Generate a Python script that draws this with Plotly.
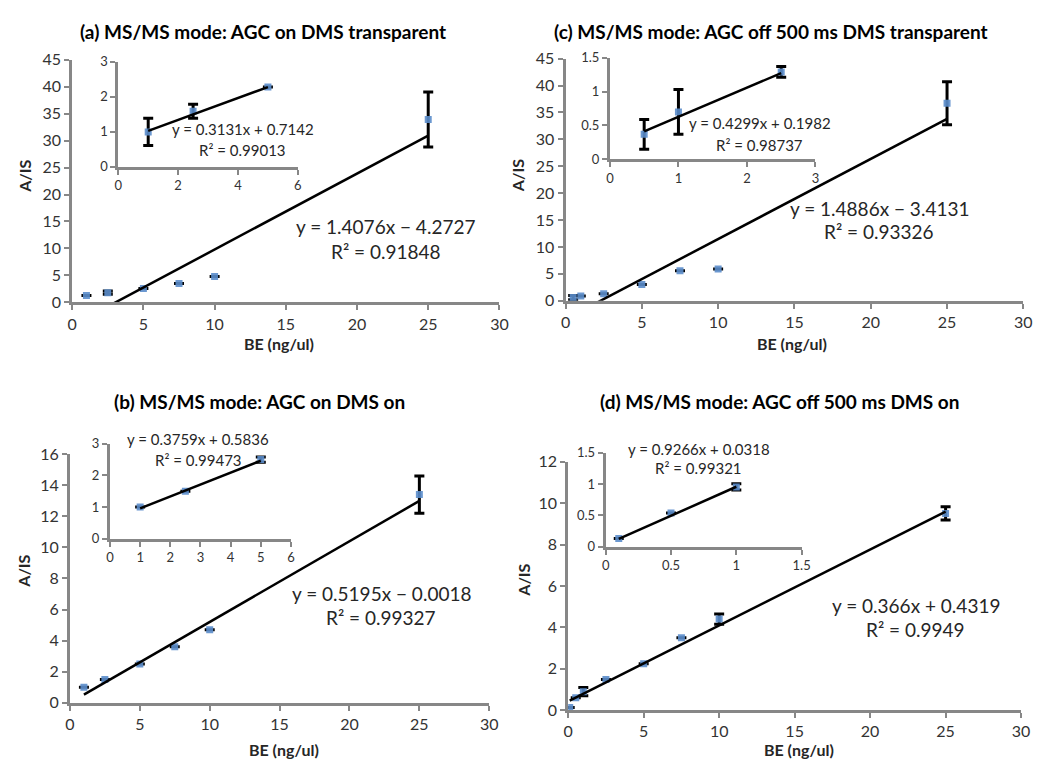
import plotly.graph_objects as go

W, H = 1050, 761

# ---------------- data ----------------
# (a) AGC on, DMS transparent
a_x = [1, 2.5, 5, 7.5, 10, 25]
a_y = [1.3, 1.8, 2.6, 3.5, 4.8, 33.9]
a_err = [0, 0.3, 0, 0, 0, 5.1]
a_ins_x = [1, 2.5, 5]
a_ins_y = [1.0, 1.59, 2.28]
a_ins_err = [0.39, 0.2, 0]
a_fit = (1.4076, -4.2727)
a_ins_fit = (0.3131, 0.7142)

# (c) AGC off 500 ms, DMS transparent
c_x = [0.5, 1, 2.5, 5, 7.5, 10, 25]
c_y = [0.6, 0.9, 1.3, 3.0, 5.6, 5.9, 36.7]
c_err = [0.4, 0, 0, 0, 0, 0, 4.0]
c_ins_x = [0.5, 1, 2.5]
c_ins_y = [0.37, 0.70, 1.29]
c_ins_err = [0.22, 0.33, 0.08]
c_fit = (1.4886, -3.4131)
c_ins_fit = (0.4299, 0.1982)

# (b) AGC on, DMS on
b_x = [1, 2.5, 5, 7.5, 10, 25]
b_y = [1.0, 1.5, 2.5, 3.6, 4.7, 13.4]
b_err = [0, 0, 0, 0, 0, 1.2]
b_ins_x = [1, 2.5, 5]
b_ins_y = [1.0, 1.5, 2.5]
b_ins_err = [0, 0, 0.08]
b_fit = (0.5195, 0.0018)
b_ins_fit = (0.3759, 0.5836)

# (d) AGC off 500 ms, DMS on
d_x = [0.1, 0.5, 1, 2.5, 5, 7.5, 10, 25]
d_y = [0.13, 0.6, 0.9, 1.49, 2.24, 3.5, 4.4, 9.5]
d_err = [0, 0, 0.2, 0, 0, 0, 0.25, 0.32]
d_ins_x = [0.1, 0.5, 1]
d_ins_y = [0.13, 0.54, 0.955]
d_ins_err = [0, 0, 0.05]
d_fit = (0.366, 0.4319)
d_ins_fit = (0.9266, 0.0318)

titles = [
    "(a) MS/MS mode: AGC on DMS transparent",
    "(c) MS/MS mode: AGC off 500 ms DMS transparent",
    "(b) MS/MS mode: AGC on DMS on",
    "(d) MS/MS mode: AGC off 500 ms DMS on",
]
main_eqs = [
    ("y = 1.4076x − 4.2727", "R² = 0.91848"),
    ("y = 1.4886x − 3.4131", "R² = 0.93326"),
    ("y = 0.5195x − 0.0018", "R² = 0.99327"),
    ("y = 0.366x + 0.4319", "R² = 0.9949"),
]
ins_eqs = [
    ("y = 0.3131x + 0.7142", "R² = 0.99013"),
    ("y = 0.4299x + 0.1982", "R² = 0.98737"),
    ("y = 0.3759x + 0.5836", "R² = 0.99473"),
    ("y = 0.9266x + 0.0318", "R² = 0.99321"),
]
x_label = "BE (ng/ul)"
y_label = "A/IS"

# ---------------- helpers ----------------
FONT = "Lato, 'Open Sans', sans-serif"
AXC = "#878787"
MARK = "#5B8DCB"


def fx(px):
    return px / W


def fy(py):
    return 1 - py / H


fig = go.Figure()


def add_panel(xs, ys, errs, fit, xname, yname):
    fig.add_trace(go.Scatter(
        x=xs, y=ys, mode="markers", xaxis=xname, yaxis=yname,
        marker=dict(symbol="square", size=7, color=MARK, opacity=0.9),
        error_y=dict(type="data", array=[e if e > 0 else None for e in errs],
                     visible=True, color="black", thickness=3, width=5),
        showlegend=False, hoverinfo="skip"))
    x0, x1 = min(xs), max(xs)
    fig.add_trace(go.Scatter(
        x=[x0, x1], y=[fit[0] * x0 + fit[1], fit[0] * x1 + fit[1]],
        mode="lines", xaxis=xname, yaxis=yname,
        line=dict(color="black", width=2.5), showlegend=False, hoverinfo="skip"))


def axis(px0, px1, rng, dtick, anchor, size):
    return dict(domain=[fx(px0), fx(px1)], range=rng, dtick=dtick, anchor=anchor,
                showline=True, linecolor=AXC, linewidth=3, ticks="outside",
                ticklen=5, tickwidth=2, tickcolor=AXC, showgrid=False,
                zeroline=False, tickfont=dict(family=FONT, size=size, color="#333333"))


def yaxis(py_top, py_bot, rng, dtick, anchor, size):
    return dict(domain=[fy(py_bot), fy(py_top)], range=rng, dtick=dtick, anchor=anchor,
                showline=True, linecolor=AXC, linewidth=3, ticks="outside",
                ticklen=5, tickwidth=2, tickcolor=AXC, showgrid=False,
                zeroline=False, tickfont=dict(family=FONT, size=size, color="#333333"))


panels = [
    dict(main=(a_x, a_y, a_err, a_fit), ins=(a_ins_x, a_ins_y, a_ins_err, a_ins_fit),
         mx=(60, 493), my=(42.7, 291.7), mr=([0, 30], 5, [0, 45], 5),
         ix=(106.7, 288.7), iy=(45, 152.7), ir=([0, 6], 2, [0, 3], 1)),
    dict(main=(c_x, c_y, c_err, c_fit), ins=(c_ins_x, c_ins_y, c_ins_err, c_ins_fit),
         mx=(560, 1024), my=(41.7, 290), mr=([0, 30], 5, [0, 45], 5),
         ix=(605, 813.3), iy=(40.7, 145), ir=([0, 3], 1, [0, 1.5], 0.5)),
    dict(main=(b_x, b_y, b_err, b_fit), ins=(b_ins_x, b_ins_y, b_ins_err, b_ins_fit),
         mx=(57.7, 482.7), my=(447.3, 702.3), mr=([0, 30], 5, [0, 16], 2),
         ix=(98.3, 281.7), iy=(436.7, 534), ir=([0, 6], 1, [0, 3], 1)),
    dict(main=(d_x, d_y, d_err, d_fit), ins=(d_ins_x, d_ins_y, d_ins_err, d_ins_fit),
         mx=(562.7, 1021.7), my=(455, 710), mr=([0, 30], 5, [0, 12], 2),
         ix=(600.7, 799.3), iy=(446, 542.3), ir=([0, 1.5], 0.5, [0, 1.5], 0.5)),
]

layout = {}
n = 1
for p in panels:
    for key, rk, size in (("m", "mr", 16), ("i", "ir", 13)):
        xs_px = p[key + "x"]
        ys_px = p[key + "y"]
        xr, xd, yr, yd = p[rk]
        xn = "x" if n == 1 else f"x{n}"
        yn = "y" if n == 1 else f"y{n}"
        layout["xaxis" if n == 1 else f"xaxis{n}"] = axis(xs_px[0], xs_px[1], xr, xd, yn, size)
        layout["yaxis" if n == 1 else f"yaxis{n}"] = yaxis(ys_px[0], ys_px[1], yr, yd, xn, size)
        data = p["main"] if key == "m" else p["ins"]
        add_panel(*data, xn, yn)
        n += 1

ann = []
title_pos = [(253, 14), (768, 14), (250, 393), (777, 393)]
for t, (x, y) in zip(titles, title_pos):
    ann.append(dict(text=f"<b>{t}</b>", x=fx(x), y=fy(y), font=dict(family=FONT, size=19, color="black")))

xlab_pos = [(270, 334), (790, 334), (275, 750), (797, 750)]
for (x, y) in xlab_pos:
    ann.append(dict(text=f"<b>{x_label}</b>", x=fx(x), y=fy(y), font=dict(family=FONT, size=16, color="#262626")))

ylab_pos = [(12, 162), (512, 162), (11, 567), (517, 577)]
for (x, y) in ylab_pos:
    ann.append(dict(text=f"<b>{y_label}</b>", x=fx(x), y=fy(y), textangle=-90,
                    font=dict(family=FONT, size=16, color="#262626")))

main_eq_pos = [(378, 214, 239), (878, 195, 219), (373, 590, 615), (915, 603, 627)]
for (e1, e2), (x, y1, y2) in zip(main_eqs, main_eq_pos):
    ann.append(dict(text=e1, x=fx(x), y=fy(y1), font=dict(family=FONT, size=19, color="#262626")))
    ann.append(dict(text=e2, x=fx(x), y=fy(y2), font=dict(family=FONT, size=19, color="#262626")))

ins_eq_pos = [(233, 114, 135), (757, 108, 130), (188, 432, 453), (695, 442, 462)]
for (e1, e2), (x, y1, y2) in zip(ins_eqs, ins_eq_pos):
    ann.append(dict(text=e1, x=fx(x), y=fy(y1), font=dict(family=FONT, size=15, color="#262626")))
    ann.append(dict(text=e2, x=fx(x), y=fy(y2), font=dict(family=FONT, size=15, color="#262626")))

for a in ann:
    a.update(xref="paper", yref="paper", showarrow=False, xanchor="center", yanchor="middle")

fig.update_layout(
    width=W, height=H, margin=dict(l=0, r=0, t=0, b=0),
    paper_bgcolor="white", plot_bgcolor="rgba(0,0,0,0)",
    annotations=ann, showlegend=False, **layout)

fig.write_html("out.html")
